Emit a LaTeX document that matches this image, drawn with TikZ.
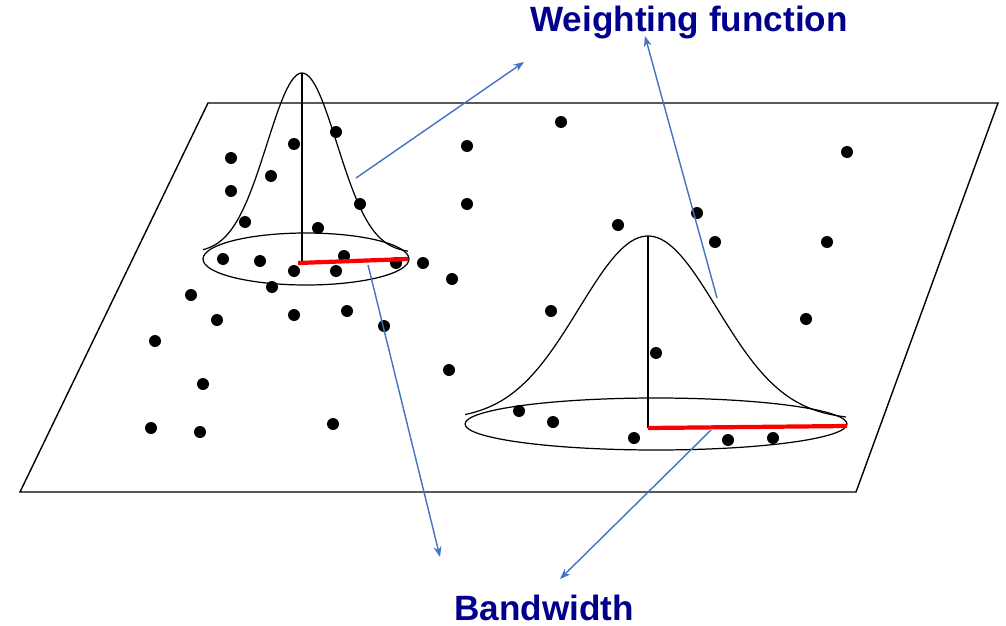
\documentclass[tikz,border=0pt]{standalone}
\usepackage{fontspec}
\setmainfont{Liberation Sans}
\usetikzlibrary{arrows.meta}
\definecolor{navy}{RGB}{0,0,140}
\definecolor{arrowblue}{RGB}{68,114,196}
\definecolor{red}{RGB}{250,0,0}
\tikzset{
    bluearrow/.style={
        line width=0.8pt,
        arrowblue,
        ->,
        >={Stealth[length=6pt, width=4.5pt]}
    },
    redline/.style={
        line width=2.4pt,
        red
    },
    bell/.style={
        line width=0.7pt,
        black
    },
    tagtext/.style={
        navy,
        anchor=base,
        font=\bfseries\fontsize{20}{24}\selectfont
    }
}
\begin{document}
\begin{tikzpicture}[x=0.02cm, y=-0.02cm]
    \useasboundingbox (0,0) rectangle (1006,625);
    \draw[line width=0.8pt] (208,103) -- (998,103) -- (856,492) -- (20,492) -- cycle;
    \fill[black]
    (336,132) circle (0.12cm) (294,144) circle (0.12cm) (231,158) circle (0.12cm)
    (271,176) circle (0.12cm) (231,191) circle (0.12cm) (360,204) circle (0.12cm)
    (245,222) circle (0.12cm) (318,228) circle (0.12cm) (223,259) circle (0.12cm)
    (260,261) circle (0.12cm) (294,271) circle (0.12cm) (344,256) circle (0.12cm)
    (336,271) circle (0.12cm) (396,263) circle (0.12cm) (423,263) circle (0.12cm)
    (452,279) circle (0.12cm) (272,287) circle (0.12cm) (191,295) circle (0.12cm)
    (217,320) circle (0.12cm) (294,315) circle (0.12cm) (347,311) circle (0.12cm)
    (384,326) circle (0.12cm) (155,341) circle (0.12cm) (203,384) circle (0.12cm)
    (151,428) circle (0.12cm) (200,432) circle (0.12cm) (333,424) circle (0.12cm)
    (449,370) circle (0.12cm) (467,146) circle (0.12cm) (467,204) circle (0.12cm);
    \fill[black]
    (561,122) circle (0.12cm) (847,152) circle (0.12cm) (697,213) circle (0.12cm)
    (618,225) circle (0.12cm) (715,242) circle (0.12cm) (827,242) circle (0.12cm)
    (551,311) circle (0.12cm) (806,319) circle (0.12cm) (656,353) circle (0.12cm)
    (519,411) circle (0.12cm) (553,422) circle (0.12cm) (634,438) circle (0.12cm)
    (728,440) circle (0.12cm) (773,438) circle (0.12cm);

    % small kernel
    \draw[bell] (306,259) ellipse (2.06cm and 0.52cm);
    \draw[bell] plot[domain=203:408, samples=80] (\x, {253-180*exp(-0.5*((\x-302)/35)^2)});
    \draw[bell] (302,73) -- (302,262);
    \draw[redline] (298,263) -- (408,259);

    % large kernel
    \draw[bell] (656,424) ellipse (3.82cm and 0.52cm);
    \draw[bell] plot[domain=465:846, samples=100] (\x, {420-184*exp(-0.5*((\x-648)/69)^2)});
    \draw[bell] (648,236) -- (648,428);
    \draw[redline] (648,428) -- (847,426);

    \node[tagtext] (wf) at (689,32) {Weighting function};
    \node[tagtext] (bw) at (544,620) {Bandwidth};

    \path
    (356,178) coordinate (wfa) (717,298) coordinate (wfb)
    (368,265) coordinate (bwa) (711,430) coordinate (bwb)
    (524,62) coordinate (wfa') (645,36) coordinate (wfb')
    (440,557) coordinate (bwa') (560,579) coordinate (bwb');
    \draw[bluearrow] (wfa) -- (wfa');
    \draw[bluearrow] (wfb) -- (wfb');
    \draw[bluearrow] (bwa) -- (bwa');
    \draw[bluearrow] (bwb) -- (bwb');
\end{tikzpicture}
\end{document}
